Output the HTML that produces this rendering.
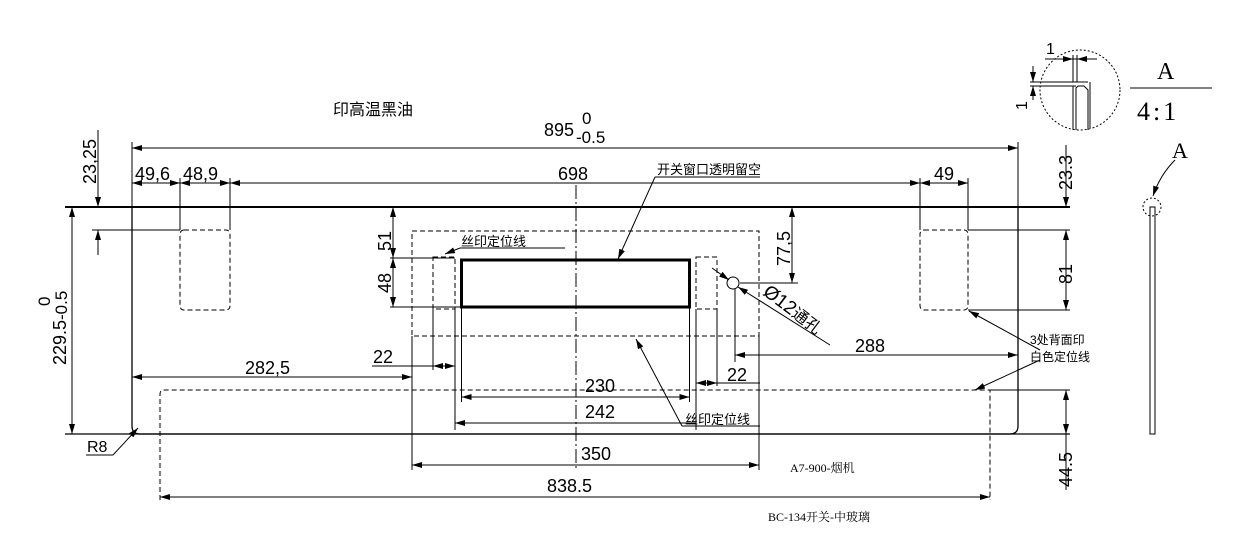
<!DOCTYPE html>
<html><head><meta charset="utf-8"><style>
html,body{margin:0;padding:0;background:#fff;}
svg{display:block;}
text{font-family:"Liberation Sans","Noto Sans CJK SC",sans-serif;fill:#000;}
.s{font-family:"Liberation Serif","Noto Serif CJK SC",serif;}
</style></head><body>
<svg width="1239" height="535" viewBox="0 0 1239 535" xmlns="http://www.w3.org/2000/svg">
<defs>
<marker id="a" viewBox="0 0 10 6" refX="10" refY="3" markerWidth="10" markerHeight="6" orient="auto-start-reverse" markerUnits="userSpaceOnUse"><path d="M0,0L10,3L0,6z" fill="#000"/></marker>
</defs>
<g stroke="#000" stroke-width="1" fill="none">
<path d="M132,207 V426 Q132,434 140,434 H1010 Q1018,434 1018,426 V207" stroke-width="1.3"/>
<line x1="65" y1="207" x2="1070" y2="207" stroke-width="2"/>
<line x1="65" y1="434" x2="1070" y2="434" stroke-width="1.3"/>
<line x1="132" y1="142" x2="132" y2="207"/>
<line x1="1018" y1="142" x2="1018" y2="207"/>
<line x1="180" y1="178" x2="180" y2="230"/>
<line x1="230" y1="178" x2="230" y2="230"/>
<line x1="920" y1="178" x2="920" y2="230"/>
<line x1="968" y1="178" x2="968" y2="230"/>
<line x1="132" y1="148" x2="1018" y2="148" marker-start="url(#a)" marker-end="url(#a)"/>
<line x1="132" y1="183" x2="180" y2="183" marker-start="url(#a)" marker-end="url(#a)"/>
<line x1="180" y1="183" x2="230" y2="183" marker-start="url(#a)" marker-end="url(#a)"/>
<line x1="230" y1="183" x2="920" y2="183" marker-start="url(#a)" marker-end="url(#a)"/>
<line x1="920" y1="183" x2="968" y2="183" marker-start="url(#a)" marker-end="url(#a)"/>
<line x1="98" y1="130" x2="98" y2="207" marker-end="url(#a)"/>
<line x1="98" y1="255" x2="98" y2="230" marker-end="url(#a)"/>
<line x1="92" y1="230" x2="180" y2="230"/>
<line x1="72" y1="207" x2="72" y2="434" marker-start="url(#a)" marker-end="url(#a)"/>
<rect x="180" y="230" width="50" height="80" rx="4" stroke-dasharray="5,3"/>
<rect x="920" y="230" width="48" height="80" rx="4" stroke-dasharray="5,3"/>
<rect x="412" y="231" width="347" height="105" stroke-dasharray="5,3"/>
<line x1="576" y1="185" x2="576" y2="470" stroke-dasharray="14,3,2,3"/>
<rect x="461.5" y="260" width="228" height="47" stroke-width="3"/>
<rect x="433" y="257" width="22" height="52" stroke-dasharray="5,3"/>
<rect x="696" y="257" width="21" height="52" stroke-dasharray="5,3"/>
<line x1="393" y1="207" x2="393" y2="258" marker-start="url(#a)" marker-end="url(#a)"/>
<line x1="393" y1="258" x2="393" y2="307" marker-start="url(#a)" marker-end="url(#a)"/>
<line x1="390" y1="258" x2="455" y2="258"/>
<line x1="390" y1="307" x2="461" y2="307"/>
<line x1="460" y1="248" x2="565" y2="248"/>
<line x1="460" y1="248" x2="445" y2="254" marker-end="url(#a)"/>
<line x1="655" y1="177" x2="760" y2="177"/>
<line x1="655" y1="177" x2="618" y2="259" marker-end="url(#a)"/>
<line x1="792" y1="207" x2="792" y2="283" marker-start="url(#a)" marker-end="url(#a)"/>
<line x1="740" y1="283" x2="798" y2="283"/>
<circle cx="733" cy="283" r="6"/>
<line x1="712" y1="268" x2="729" y2="280" marker-end="url(#a)"/>
<line x1="830" y1="345" x2="738" y2="287" marker-end="url(#a)"/>
<line x1="735" y1="289" x2="735" y2="362"/>
<line x1="735" y1="355" x2="1018" y2="355" marker-start="url(#a)" marker-end="url(#a)"/>
<line x1="1066" y1="145" x2="1066" y2="207" marker-end="url(#a)"/>
<line x1="1066" y1="230" x2="1066" y2="310" marker-start="url(#a)" marker-end="url(#a)"/>
<line x1="968" y1="230" x2="1070" y2="230"/>
<line x1="968" y1="310" x2="1070" y2="310"/>
<line x1="1066" y1="390" x2="1066" y2="434" marker-start="url(#a)" marker-end="url(#a)"/>
<line x1="1066" y1="434" x2="1066" y2="490"/>
<line x1="990" y1="390" x2="1070" y2="390"/>
<line x1="1040" y1="350" x2="969" y2="311" marker-end="url(#a)"/>
<line x1="1040" y1="360" x2="975" y2="390" marker-end="url(#a)"/>
<path d="M160,500 V394 Q160,390 164,390 H990 V500" stroke-dasharray="5,3"/>
<line x1="412" y1="336" x2="412" y2="470"/>
<line x1="759" y1="336" x2="759" y2="470"/>
<line x1="132" y1="377" x2="412" y2="377" marker-start="url(#a)" marker-end="url(#a)"/>
<line x1="433" y1="309" x2="433" y2="370"/>
<line x1="455" y1="309" x2="455" y2="430"/>
<line x1="372" y1="366" x2="433" y2="366"/>
<line x1="433" y1="366" x2="455" y2="366" marker-start="url(#a)" marker-end="url(#a)"/>
<line x1="461.5" y1="307" x2="461.5" y2="402"/>
<line x1="689.5" y1="307" x2="689.5" y2="402"/>
<line x1="461.5" y1="397" x2="689.5" y2="397" marker-start="url(#a)" marker-end="url(#a)"/>
<line x1="696" y1="309" x2="696" y2="430"/>
<line x1="717" y1="309" x2="717" y2="386"/>
<line x1="455" y1="423" x2="696" y2="423" marker-start="url(#a)"/>
<line x1="696" y1="383" x2="717" y2="383" marker-start="url(#a)" marker-end="url(#a)"/>
<line x1="717" y1="383" x2="760" y2="383"/>
<line x1="682" y1="426" x2="760" y2="426"/>
<line x1="682" y1="426" x2="636" y2="339" marker-end="url(#a)"/>
<line x1="412" y1="465" x2="759" y2="465" marker-start="url(#a)" marker-end="url(#a)"/>
<line x1="160" y1="497" x2="990" y2="497" marker-start="url(#a)" marker-end="url(#a)"/>
<line x1="86" y1="455" x2="113" y2="455"/>
<line x1="113" y1="455" x2="138" y2="428" marker-end="url(#a)"/>
<rect x="1150" y="207" width="5" height="227"/>
<circle cx="1152" cy="207" r="9" stroke-dasharray="2,2"/>
<path d="M1175,160 Q1160,175 1153,196" marker-end="url(#a)"/>
<circle cx="1080" cy="90" r="40" stroke-dasharray="2,2"/>
<line x1="1073" y1="55" x2="1073" y2="82"/>
<line x1="1077" y1="55" x2="1077" y2="82"/>
<line x1="1045" y1="59" x2="1097" y2="59"/>
<line x1="1065" y1="59" x2="1073" y2="59" marker-end="url(#a)"/>
<line x1="1085" y1="59" x2="1077" y2="59" marker-end="url(#a)"/>
<line x1="1030" y1="82" x2="1088" y2="82"/>
<line x1="1030" y1="86" x2="1076" y2="86"/>
<path d="M1076,130 V88 L1078,86 H1084 L1088,90 V130" />
<path d="M1073,130 V86"/>
<line x1="1090" y1="82" x2="1090" y2="128"/>
<line x1="1033" y1="66" x2="1033" y2="82" marker-end="url(#a)"/>
<line x1="1033" y1="100" x2="1033" y2="86" marker-end="url(#a)"/>
<line x1="1130" y1="88" x2="1212" y2="88"/>
</g>
<text x="333" y="115" font-size="16">印高温黑油</text>
<text x="544" y="136" font-size="18">895</text>
<text x="582" y="124" font-size="17">0</text>
<text x="576" y="143" font-size="17">-0.5</text>
<text x="135" y="180" font-size="18">49,6</text>
<text x="183" y="180" font-size="18">48,9</text>
<text x="558" y="180" font-size="18">698</text>
<text x="934" y="180" font-size="18">49</text>
<text x="657" y="174" font-size="13">开关窗口透明留空</text>
<text x="461" y="246" font-size="13">丝印定位线</text>
<text x="685" y="424" font-size="13">丝印定位线</text>
<text transform="translate(96,184) rotate(-90)" font-size="18">23,25</text>
<text transform="translate(66,365) rotate(-90)" font-size="18">229.5</text>
<text transform="translate(50,306) rotate(-90)" font-size="17">0</text>
<text transform="translate(67,320) rotate(-90)" font-size="17">-0.5</text>
<text transform="translate(391,251) rotate(-90)" font-size="18">51</text>
<text transform="translate(391,293) rotate(-90)" font-size="18">48</text>
<text transform="translate(790,266) rotate(-90)" font-size="18">77,5</text>
<text transform="translate(1072,190) rotate(-90)" font-size="18">23.3</text>
<text transform="translate(1072,284) rotate(-90)" font-size="18">81</text>
<text transform="translate(1072,487) rotate(-90)" font-size="18">44.5</text>
<text transform="translate(762,294) rotate(37)" font-size="19">Ø12<tspan font-size="16">通孔</tspan></text>
<text x="855" y="352" font-size="18">288</text>
<text x="1030" y="344" font-size="12">3处背面印</text>
<text x="1030" y="361" font-size="12">白色定位线</text>
<text x="245" y="374" font-size="18">282,5</text>
<text x="373" y="363" font-size="18">22</text>
<text x="727" y="381" font-size="18">22</text>
<text x="585" y="392" font-size="18">230</text>
<text x="585" y="418" font-size="18">242</text>
<text x="581" y="460" font-size="18">350</text>
<text x="547" y="492" font-size="18">838.5</text>
<text x="87" y="452" font-size="16">R8</text>
<text x="790" y="472" font-size="12" class="s">A7-900-烟机</text>
<text x="768" y="521" font-size="12" class="s">BC-134开关-中玻璃</text>
<text x="1172" y="158" font-size="22" class="s">A</text>
<text x="1046" y="54" font-size="16">1</text>
<text transform="translate(1027,110) rotate(-90)" font-size="16">1</text>
<text x="1157" y="79" font-size="24" class="s">A</text>
<text x="1137" y="120" font-size="26" class="s" letter-spacing="3">4:1</text>
</svg>
</body></html>
